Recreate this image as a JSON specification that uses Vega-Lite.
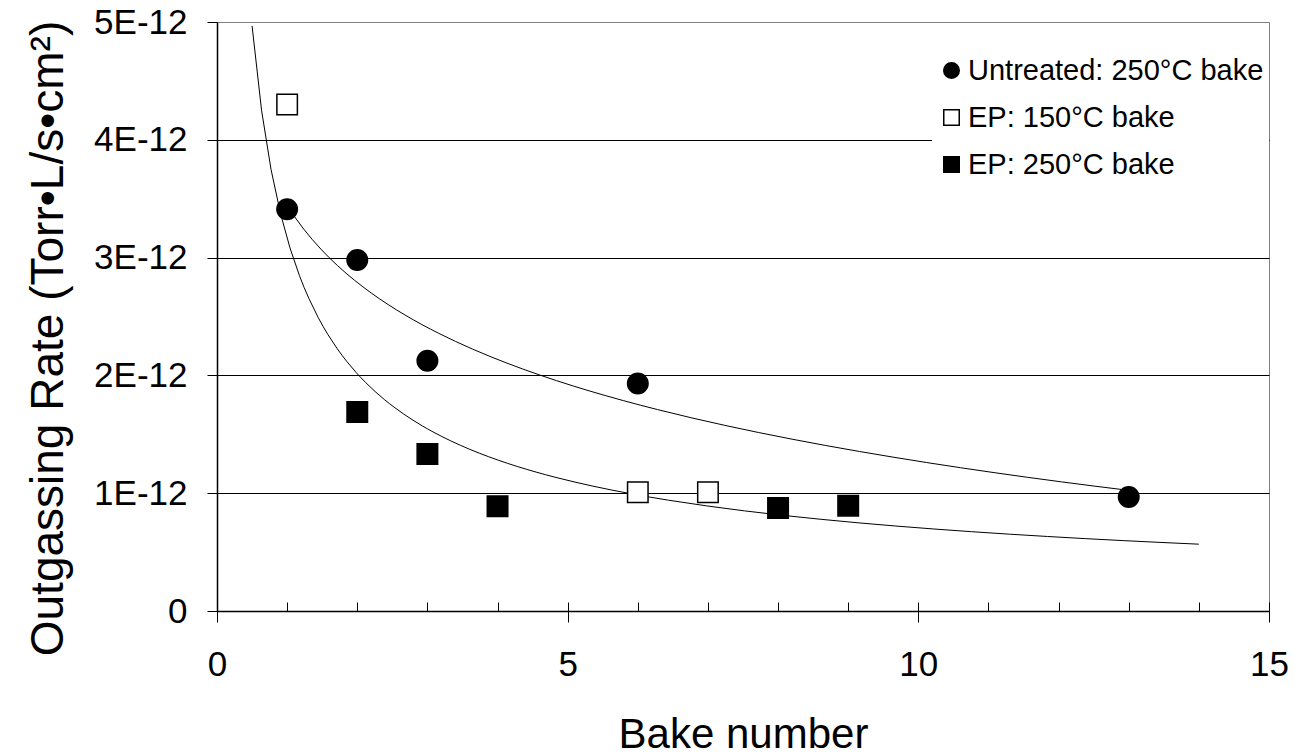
{
  "$schema": "https://vega.github.io/schema/vega-lite/v6.json",
  "width": 1052,
  "height": 589,
  "autosize": {"type": "none"},
  "padding": {"left": 217, "top": 22, "right": 26, "bottom": 145},
  "background": "white",
  "config": {
    "font": "Liberation Sans",
    "view": {"stroke": "#808080", "strokeWidth": 1},
    "axis": {"grid": false}
  },
  "data": {
    "values": [
      {"series": "Untreated: 250°C bake", "bake": 1, "rate": 3.41e-12},
      {"series": "Untreated: 250°C bake", "bake": 2, "rate": 2.98e-12},
      {"series": "Untreated: 250°C bake", "bake": 3, "rate": 2.125e-12},
      {"series": "Untreated: 250°C bake", "bake": 6, "rate": 1.932e-12},
      {"series": "Untreated: 250°C bake", "bake": 13, "rate": 0.968e-12},
      {"series": "EP: 150°C bake", "bake": 1, "rate": 4.30e-12},
      {"series": "EP: 150°C bake", "bake": 6, "rate": 1.008e-12},
      {"series": "EP: 150°C bake", "bake": 7, "rate": 1.008e-12},
      {"series": "EP: 250°C bake", "bake": 2, "rate": 1.69e-12},
      {"series": "EP: 250°C bake", "bake": 3, "rate": 1.333e-12},
      {"series": "EP: 250°C bake", "bake": 4, "rate": 0.89e-12},
      {"series": "EP: 250°C bake", "bake": 8, "rate": 0.874e-12},
      {"series": "EP: 250°C bake", "bake": 9, "rate": 0.894e-12}
    ]
  },
  "layer": [
    {
      "transform": [
        {"filter": "datum.series === 'Untreated: 250°C bake'"},
        {"regression": "rate", "on": "bake", "method": "log", "extent": [1, 13]}
      ],
      "mark": {"type": "line", "color": "black", "strokeWidth": 1},
      "encoding": {
        "x": {
          "field": "bake", "type": "quantitative",
          "scale": {"domain": [0, 15], "nice": false, "zero": false},
          "axis": {
            "orient": "bottom",
            "values": [0,1,2,3,4,5,6,7,8,9,10,11,12,13,14,15],
            "tickSize": -9, "tickColor": "black", "tickWidth": 1,
            "labels": false, "domain": false, "title": null, "grid": false
          }
        },
        "y": {
          "field": "rate", "type": "quantitative",
          "scale": {"domain": [0, 5e-12], "nice": false},
          "axis": {
            "values": [0, 1e-12, 2e-12, 3e-12, 4e-12, 5e-12],
            "labelExpr": "datum.value === 0 ? '0' : round(datum.value*1e12) + 'E-12'",
            "labelFontSize": 35, "labelColor": "black", "labelPadding": 20,
            "tickSize": 10, "tickColor": "black", "tickWidth": 1,
            "domainColor": "black", "domainWidth": 1.5,
            "grid": true,
            "gridColor": {"condition": {"test": "datum.value >= 4.5e-12", "value": "#808080"}, "value": "black"},
            "gridWidth": 1,
            "title": "Outgassing Rate (Torr•L/s•cm²)",
            "titleFontSize": 46, "titleFontWeight": "normal", "titleColor": "black",
            "titleAngle": -90, "titleX": -155, "titleY": 316,
            "titleAlign": "center", "titleBaseline": "alphabetic"
          }
        }
      }
    },
    {
      "transform": [
        {"filter": "datum.series !== 'Untreated: 250°C bake'"},
        {"regression": "rate", "on": "bake", "method": "pow", "extent": [0.5, 14]}
      ],
      "mark": {"type": "line", "color": "black", "strokeWidth": 1},
      "encoding": {
        "x": {"field": "bake", "type": "quantitative", "axis": null},
        "y": {"field": "rate", "type": "quantitative"}
      }
    },
    {
      "mark": {"type": "point", "filled": true, "strokeWidth": 1.5, "opacity": 1, "size": 420},
      "encoding": {
        "x": {
          "field": "bake", "type": "quantitative",
          "axis": {
            "orient": "bottom",
            "values": [0, 5, 10, 15],
            "tickSize": 11, "tickColor": "black", "tickWidth": 1,
            "labelFontSize": 35, "labelColor": "black", "labelPadding": 25, "labelFlush": false,
            "domainColor": "black", "domainWidth": 1.5, "grid": false,
            "title": "Bake number", "titleFontSize": 42, "titleFontWeight": "normal", "titleColor": "black",
            "titleY": 136, "titleBaseline": "alphabetic"
          }
        },
        "y": {"field": "rate", "type": "quantitative"},
        "shape": {
          "field": "series", "type": "nominal",
          "scale": {"domain": ["Untreated: 250°C bake", "EP: 150°C bake", "EP: 250°C bake"], "range": ["circle", "square", "square"]},
          "legend": {
            "title": null, "orient": "none", "legendX": 715, "legendY": 29,
            "padding": 5, "fillColor": "white",
            "labelFontSize": 29, "labelColor": "black", "labelOffset": 2, "labelLimit": 400,
            "rowPadding": 17, "symbolSize": 240, "symbolStrokeWidth": 1.5
          }
        },
        "fill": {
          "field": "series", "type": "nominal",
          "scale": {"domain": ["Untreated: 250°C bake", "EP: 150°C bake", "EP: 250°C bake"], "range": ["black", "white", "black"]},
          "legend": {
            "title": null, "orient": "none", "legendX": 715, "legendY": 29,
            "padding": 5, "fillColor": "white",
            "labelFontSize": 29, "labelColor": "black", "labelOffset": 2, "labelLimit": 400,
            "rowPadding": 17, "symbolSize": 240, "symbolStrokeWidth": 1.5
          }
        },
        "stroke": {
          "field": "series", "type": "nominal",
          "scale": {"domain": ["Untreated: 250°C bake", "EP: 150°C bake", "EP: 250°C bake"], "range": ["black", "black", "black"]},
          "legend": {
            "title": null, "orient": "none", "legendX": 715, "legendY": 29,
            "padding": 5, "fillColor": "white",
            "labelFontSize": 29, "labelColor": "black", "labelOffset": 2, "labelLimit": 400,
            "rowPadding": 17, "symbolSize": 240, "symbolStrokeWidth": 1.5
          }
        }
      }
    }
  ],
  "resolve": {"axis": {"x": "independent"}}
}
